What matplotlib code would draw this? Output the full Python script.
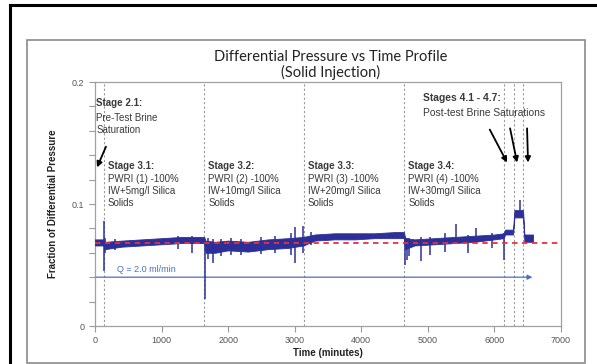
import matplotlib
matplotlib.use("Agg")
import matplotlib.pyplot as plt
from matplotlib.lines import Line2D
from matplotlib.patches import Rectangle

# band of the noisy pressure trace (time in minutes, lower / upper edge)
band_t = [0, 130, 150, 400, 700, 1000, 1300, 1640, 1660, 1800, 2000, 2300, 2600, 2900, 3130,
          3300, 3600, 3900, 4200, 4500, 4640, 4660, 4800, 5100, 5400, 5700, 6000, 6140, 6160,
          6280, 6300, 6430, 6450, 6580]
band_lo = [0.066, 0.066, 0.063, 0.065, 0.066, 0.067, 0.068, 0.068, 0.060, 0.060, 0.062, 0.061,
           0.063, 0.064, 0.066, 0.070, 0.071, 0.071, 0.072, 0.072, 0.072, 0.063, 0.066, 0.067,
           0.068, 0.069, 0.071, 0.072, 0.075, 0.075, 0.089, 0.089, 0.069, 0.069]
band_hi = [0.071, 0.071, 0.069, 0.070, 0.071, 0.072, 0.073, 0.073, 0.070, 0.069, 0.070, 0.069,
           0.071, 0.072, 0.073, 0.075, 0.076, 0.076, 0.076, 0.077, 0.077, 0.072, 0.071, 0.072,
           0.073, 0.074, 0.075, 0.076, 0.079, 0.079, 0.095, 0.095, 0.075, 0.075]

# individual spikes in the trace
spike_t = [135, 145, 300, 1250, 1450, 1650, 1700, 1780, 1900, 2050, 2200, 2500, 2700, 2950,
           3000, 3130, 3250, 4650, 4680, 4720, 4900, 5030, 5250, 5420, 5600, 5720, 5960, 6150,
           6380]
spike_lo = [0.045, 0.060, 0.062, 0.063, 0.060, 0.022, 0.055, 0.052, 0.057, 0.058, 0.058, 0.059,
            0.060, 0.058, 0.052, 0.060, 0.066, 0.050, 0.054, 0.057, 0.053, 0.058, 0.061, 0.068,
            0.060, 0.070, 0.064, 0.054, 0.089]
spike_hi = [0.086, 0.072, 0.071, 0.074, 0.074, 0.070, 0.072, 0.071, 0.071, 0.072, 0.071, 0.073,
            0.074, 0.076, 0.081, 0.082, 0.077, 0.073, 0.072, 0.072, 0.073, 0.073, 0.076, 0.084,
            0.075, 0.080, 0.076, 0.076, 0.103]

stage_times = [135, 1640, 3140, 4645, 6145, 6290, 6435]
baseline = 0.068
flow_level = 0.040
flow_end = 6570

stage_labels = [
    ("Stage 3.1:", "PWRI (1) -100%\nIW+5mg/l Silica\nSolids"),
    ("Stage 3.2:", "PWRI (2) -100%\nIW+10mg/l Silica\nSolids"),
    ("Stage 3.3:", "PWRI (3) -100%\nIW+20mg/l Silica\nSolids"),
    ("Stage 3.4:", "PWRI (4) -100%\nIW+30mg/l Silica\nSolids"),
]

blue = "#2c2f98"
txt = "#3a3a3a"
plt.rcParams['font.family'] = ['Liberation Sans', 'DejaVu Sans']

fig = plt.figure(figsize=(5.97, 3.64), dpi=100)
fig.patch.set_facecolor("white")

# frames around the picture
fig.add_artist(Line2D([10 / 597, 1], [1 - 5 / 364, 1 - 5 / 364], color="black", lw=2.2))
fig.add_artist(Line2D([10 / 597, 10 / 597], [0, 1 - 5 / 364], color="black", lw=2.2))
fig.add_artist(Rectangle((27 / 597, 1 / 364), (585 - 27) / 597, (363 - 40) / 364,
                         fill=False, edgecolor="#8a8a8a", lw=1.2))

ax = fig.add_axes([95 / 597, 38 / 364, (561 - 95) / 597, (326 - 82) / 364])

for t in stage_times:
    ax.axvline(t, color="#9a9a9a", lw=0.8, ls=(0, (2, 2)), zorder=1)

ax.fill_between(band_t, band_lo, band_hi, color=blue, lw=0.6, zorder=3)
ax.vlines(spike_t, spike_lo, spike_hi, color=blue, lw=1.1, zorder=3)
ax.axhline(baseline, color="#e8323a", lw=1.3, ls=(0, (3, 2.5)), zorder=4)

ax.annotate("", xy=(flow_end, flow_level), xytext=(0, flow_level),
            arrowprops=dict(arrowstyle="-|>", color="#4a6fc4", lw=0.9,
                            mutation_scale=7, shrinkA=0, shrinkB=0), zorder=2)
ax.text(330, 0.0445, "Q = 2.0 ml/min", color="#4a6fc4", fontsize=6.5)

ax.text(20, 0.183, "Stage 2.1:", fontsize=7, fontweight="bold", color=txt, va="center")
ax.text(20, 0.1655, "Pre-Test Brine\nSaturation", fontsize=7, color=txt, va="center",
        linespacing=1.2)
ax.annotate("", xy=(30, 0.130), xytext=(165, 0.147),
            arrowprops=dict(arrowstyle="-|>", color="black", lw=1.3, mutation_scale=8,
                            shrinkA=0, shrinkB=0))

for t, (head, body) in zip(stage_times, stage_labels):
    ax.text(t + 60, 0.131, head, fontsize=7, fontweight="bold", color=txt, va="center")
    ax.text(t + 60, 0.125, body, fontsize=7, color=txt, va="top", linespacing=1.25)

ax.text(4925, 0.187, "Stages 4.1 - 4.7:", fontsize=7.4, fontweight="bold", color=txt,
        va="center")
ax.text(4925, 0.175, "Post-test Brine Saturations", fontsize=7.4, color=txt, va="center")
for tail, head in [((5930, 0.161), (6190, 0.134)), ((6235, 0.162), (6340, 0.134)),
                   ((6490, 0.162), (6505, 0.134))]:
    ax.annotate("", xy=head, xytext=tail,
                arrowprops=dict(arrowstyle="-|>", color="black", lw=1.3, mutation_scale=8,
                                shrinkA=0, shrinkB=0))

ax.set_xlim(0, 7000)
ax.set_ylim(0, 0.2)
ax.set_xticks(range(0, 7001, 1000))
ax.set_yticks([0, 0.1, 0.2])
ax.set_yticklabels(["0", "0.1", "0.2"])
ax.set_yticks([0.02 * i for i in range(11)], minor=True)
ax.tick_params(axis="both", colors="#9a9a9a", labelcolor="#555555", labelsize=6.5,
               direction="out", length=4, width=0.8)
ax.tick_params(axis="y", which="minor", colors="#9a9a9a", length=4, width=0.8)
for s in ax.spines.values():
    s.set_color("#a0a0a0")
    s.set_linewidth(0.9)

ax.set_xlabel("Time (minutes)", fontsize=7, fontweight="bold", color="#222222", labelpad=2)
ax.set_ylabel("Fraction of Differential Pressure", fontsize=7, fontweight="bold",
              color="#222222", labelpad=10)

fig.text(331 / 597, 1 - 65 / 364, "Differential Pressure vs Time Profile\n(Solid Injection)",
         ha="center", va="center", fontsize=10.5, family=["Lato", "DejaVu Sans"],
         color="#222222", linespacing=1.15)

fig.savefig("out.png", dpi=100)
